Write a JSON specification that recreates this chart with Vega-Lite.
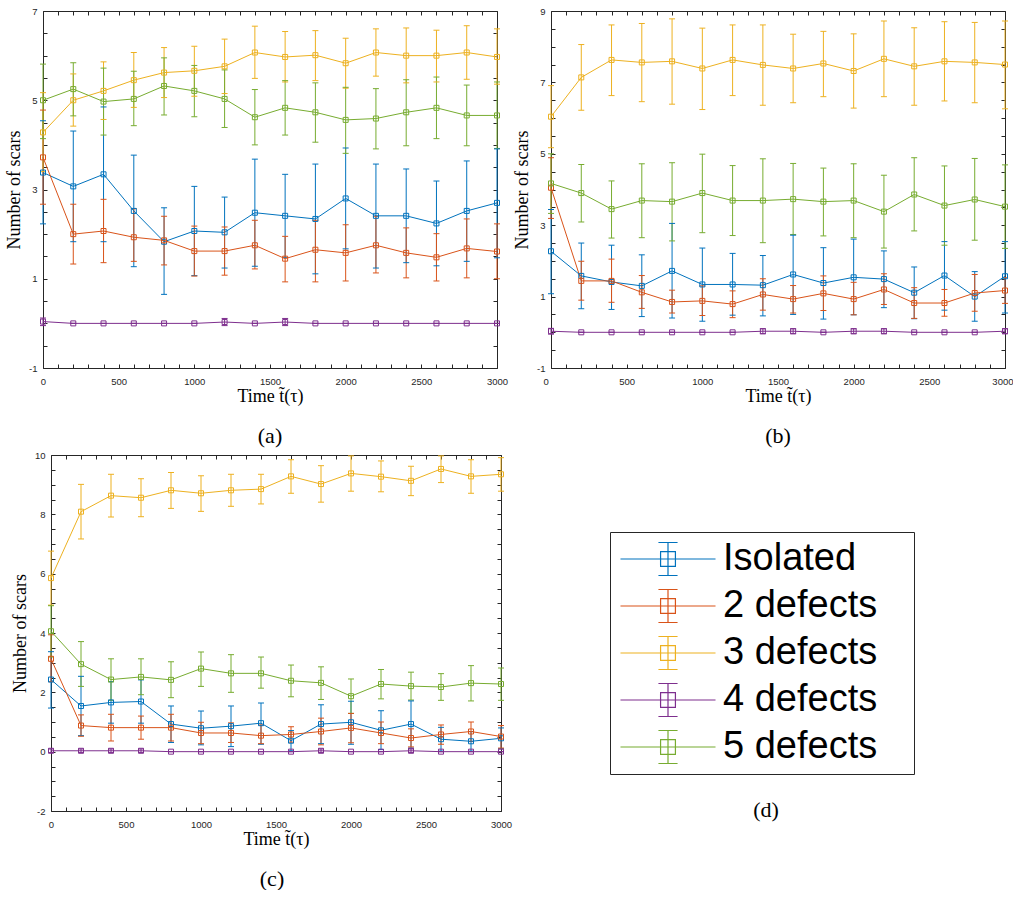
{
"$schema": "https://vega.github.io/schema/vega-lite/v6.json",
"padding": {"left": 5, "top": 6, "right": 0, "bottom": 0},
"background": "white",
"spacing": 3,
"datasets": {
"a": [
{"t":0,"s":"Isolated","m":3.38,"lo":2.23,"hi":4.54},{"t":200,"s":"Isolated","m":3.07,"lo":1.83,"hi":4.31},{"t":400,"s":"Isolated","m":3.34,"lo":1.83,"hi":4.85},{"t":600,"s":"Isolated","m":2.52,"lo":1.27,"hi":3.77},{"t":800,"s":"Isolated","m":1.83,"lo":0.65,"hi":2.59},{"t":1000,"s":"Isolated","m":2.07,"lo":1.07,"hi":3.07},{"t":1200,"s":"Isolated","m":2.04,"lo":1.24,"hi":2.83},{"t":1400,"s":"Isolated","m":2.48,"lo":1.28,"hi":3.68},{"t":1600,"s":"Isolated","m":2.41,"lo":1.48,"hi":3.34},{"t":1800,"s":"Isolated","m":2.34,"lo":1.11,"hi":3.57},{"t":2000,"s":"Isolated","m":2.80,"lo":1.67,"hi":3.93},{"t":2200,"s":"Isolated","m":2.41,"lo":1.24,"hi":3.57},{"t":2400,"s":"Isolated","m":2.41,"lo":1.36,"hi":3.46},{"t":2600,"s":"Isolated","m":2.24,"lo":1.29,"hi":3.19},{"t":2800,"s":"Isolated","m":2.52,"lo":1.39,"hi":3.64},{"t":3000,"s":"Isolated","m":2.70,"lo":1.47,"hi":3.91},
{"t":0,"s":"2 defects","m":3.72,"lo":2.67,"hi":4.78},{"t":200,"s":"2 defects","m":2.00,"lo":1.33,"hi":2.67},{"t":400,"s":"2 defects","m":2.07,"lo":1.36,"hi":2.78},{"t":600,"s":"2 defects","m":1.93,"lo":1.39,"hi":2.57},{"t":800,"s":"2 defects","m":1.86,"lo":1.31,"hi":2.40},{"t":1000,"s":"2 defects","m":1.62,"lo":1.06,"hi":2.18},{"t":1200,"s":"2 defects","m":1.62,"lo":1.08,"hi":2.16},{"t":1400,"s":"2 defects","m":1.75,"lo":1.22,"hi":2.31},{"t":1600,"s":"2 defects","m":1.45,"lo":0.93,"hi":1.95},{"t":1800,"s":"2 defects","m":1.65,"lo":0.93,"hi":2.31},{"t":2000,"s":"2 defects","m":1.58,"lo":0.95,"hi":2.21},{"t":2200,"s":"2 defects","m":1.75,"lo":1.13,"hi":2.40},{"t":2400,"s":"2 defects","m":1.58,"lo":1.02,"hi":2.14},{"t":2600,"s":"2 defects","m":1.48,"lo":0.95,"hi":2.01},{"t":2800,"s":"2 defects","m":1.68,"lo":1.02,"hi":2.34},{"t":3000,"s":"2 defects","m":1.61,"lo":1.00,"hi":2.23},
{"t":0,"s":"3 defects","m":4.28,"lo":3.40,"hi":5.17},{"t":200,"s":"3 defects","m":5.00,"lo":4.42,"hi":5.59},{"t":400,"s":"3 defects","m":5.21,"lo":4.57,"hi":5.86},{"t":600,"s":"3 defects","m":5.45,"lo":4.84,"hi":6.07},{"t":800,"s":"3 defects","m":5.62,"lo":5.06,"hi":6.18},{"t":1000,"s":"3 defects","m":5.66,"lo":5.09,"hi":6.21},{"t":1200,"s":"3 defects","m":5.76,"lo":5.15,"hi":6.37},{"t":1400,"s":"3 defects","m":6.07,"lo":5.49,"hi":6.66},{"t":1600,"s":"3 defects","m":5.97,"lo":5.41,"hi":6.54},{"t":1800,"s":"3 defects","m":6.01,"lo":5.44,"hi":6.56},{"t":2000,"s":"3 defects","m":5.83,"lo":5.27,"hi":6.39},{"t":2200,"s":"3 defects","m":6.07,"lo":5.54,"hi":6.60},{"t":2400,"s":"3 defects","m":6.00,"lo":5.39,"hi":6.62},{"t":2600,"s":"3 defects","m":6.00,"lo":5.41,"hi":6.57},{"t":2800,"s":"3 defects","m":6.07,"lo":5.47,"hi":6.67},{"t":3000,"s":"3 defects","m":5.97,"lo":5.36,"hi":6.60},
{"t":0,"s":"4 defects","m":0.04,"lo":-0.05,"hi":0.12},{"t":200,"s":"4 defects","m":0,"lo":0,"hi":0},{"t":400,"s":"4 defects","m":0,"lo":0,"hi":0},{"t":600,"s":"4 defects","m":0,"lo":0,"hi":0},{"t":800,"s":"4 defects","m":0,"lo":0,"hi":0},{"t":1000,"s":"4 defects","m":0,"lo":0,"hi":0},{"t":1200,"s":"4 defects","m":0.03,"lo":-0.05,"hi":0.11},{"t":1400,"s":"4 defects","m":0,"lo":0,"hi":0},{"t":1600,"s":"4 defects","m":0.03,"lo":-0.05,"hi":0.11},{"t":1800,"s":"4 defects","m":0,"lo":0,"hi":0},{"t":2000,"s":"4 defects","m":0,"lo":0,"hi":0},{"t":2200,"s":"4 defects","m":0,"lo":0,"hi":0},{"t":2400,"s":"4 defects","m":0,"lo":0,"hi":0},{"t":2600,"s":"4 defects","m":0,"lo":0,"hi":0},{"t":2800,"s":"4 defects","m":0,"lo":0,"hi":0},{"t":3000,"s":"4 defects","m":0,"lo":0,"hi":0},
{"t":0,"s":"5 defects","m":5.00,"lo":4.14,"hi":5.81},{"t":200,"s":"5 defects","m":5.25,"lo":4.65,"hi":5.84},{"t":400,"s":"5 defects","m":4.97,"lo":4.22,"hi":5.72},{"t":600,"s":"5 defects","m":5.03,"lo":4.43,"hi":5.65},{"t":800,"s":"5 defects","m":5.32,"lo":4.67,"hi":5.95},{"t":1000,"s":"5 defects","m":5.21,"lo":4.63,"hi":5.78},{"t":1200,"s":"5 defects","m":5.03,"lo":4.39,"hi":5.68},{"t":1400,"s":"5 defects","m":4.62,"lo":4.00,"hi":5.24},{"t":1600,"s":"5 defects","m":4.83,"lo":4.22,"hi":5.44},{"t":1800,"s":"5 defects","m":4.73,"lo":4.06,"hi":5.39},{"t":2000,"s":"5 defects","m":4.56,"lo":3.81,"hi":5.29},{"t":2200,"s":"5 defects","m":4.59,"lo":3.91,"hi":5.26},{"t":2400,"s":"5 defects","m":4.73,"lo":3.98,"hi":5.46},{"t":2600,"s":"5 defects","m":4.83,"lo":4.14,"hi":5.52},{"t":2800,"s":"5 defects","m":4.66,"lo":3.98,"hi":5.34},{"t":3000,"s":"5 defects","m":4.66,"lo":3.92,"hi":5.41}
],
"b": [
{"t":0,"s":"Isolated","m":2.27,"lo":1.08,"hi":3.44},{"t":200,"s":"Isolated","m":1.58,"lo":0.66,"hi":2.50},{"t":400,"s":"Isolated","m":1.41,"lo":0.64,"hi":2.44},{"t":600,"s":"Isolated","m":1.30,"lo":0.44,"hi":2.17},{"t":800,"s":"Isolated","m":1.72,"lo":0.40,"hi":3.05},{"t":1000,"s":"Isolated","m":1.34,"lo":0.31,"hi":2.36},{"t":1200,"s":"Isolated","m":1.34,"lo":0.48,"hi":2.21},{"t":1400,"s":"Isolated","m":1.32,"lo":0.46,"hi":2.15},{"t":1600,"s":"Isolated","m":1.62,"lo":0.50,"hi":2.72},{"t":1800,"s":"Isolated","m":1.38,"lo":0.37,"hi":2.37},{"t":2000,"s":"Isolated","m":1.54,"lo":0.49,"hi":2.61},{"t":2200,"s":"Isolated","m":1.49,"lo":0.69,"hi":2.28},{"t":2400,"s":"Isolated","m":1.11,"lo":0.38,"hi":1.83},{"t":2600,"s":"Isolated","m":1.59,"lo":0.62,"hi":2.54},{"t":2800,"s":"Isolated","m":1.00,"lo":0.31,"hi":1.70},{"t":3000,"s":"Isolated","m":1.57,"lo":0.54,"hi":2.54},
{"t":0,"s":"2 defects","m":4.05,"lo":3.19,"hi":4.89},{"t":200,"s":"2 defects","m":1.44,"lo":0.90,"hi":1.99},{"t":400,"s":"2 defects","m":1.44,"lo":0.84,"hi":2.05},{"t":600,"s":"2 defects","m":1.12,"lo":0.67,"hi":1.59},{"t":800,"s":"2 defects","m":0.85,"lo":0.54,"hi":1.18},{"t":1000,"s":"2 defects","m":0.88,"lo":0.47,"hi":1.30},{"t":1200,"s":"2 defects","m":0.79,"lo":0.41,"hi":1.16},{"t":1400,"s":"2 defects","m":1.06,"lo":0.62,"hi":1.50},{"t":1600,"s":"2 defects","m":0.93,"lo":0.54,"hi":1.31},{"t":1800,"s":"2 defects","m":1.09,"lo":0.61,"hi":1.58},{"t":2000,"s":"2 defects","m":0.93,"lo":0.49,"hi":1.40},{"t":2200,"s":"2 defects","m":1.20,"lo":0.78,"hi":1.64},{"t":2400,"s":"2 defects","m":0.82,"lo":0.39,"hi":1.25},{"t":2600,"s":"2 defects","m":0.82,"lo":0.45,"hi":1.20},{"t":2800,"s":"2 defects","m":1.10,"lo":0.59,"hi":1.62},{"t":3000,"s":"2 defects","m":1.17,"lo":0.81,"hi":1.53},
{"t":0,"s":"3 defects","m":6.04,"lo":5.17,"hi":6.91},{"t":200,"s":"3 defects","m":7.14,"lo":6.22,"hi":8.06},{"t":400,"s":"3 defects","m":7.63,"lo":6.63,"hi":8.61},{"t":600,"s":"3 defects","m":7.56,"lo":6.46,"hi":8.65},{"t":800,"s":"3 defects","m":7.59,"lo":6.39,"hi":8.78},{"t":1000,"s":"3 defects","m":7.39,"lo":6.24,"hi":8.52},{"t":1200,"s":"3 defects","m":7.63,"lo":6.63,"hi":8.61},{"t":1400,"s":"3 defects","m":7.49,"lo":6.36,"hi":8.61},{"t":1600,"s":"3 defects","m":7.39,"lo":6.43,"hi":8.35},{"t":1800,"s":"3 defects","m":7.53,"lo":6.60,"hi":8.43},{"t":2000,"s":"3 defects","m":7.32,"lo":6.28,"hi":8.36},{"t":2200,"s":"3 defects","m":7.66,"lo":6.60,"hi":8.72},{"t":2400,"s":"3 defects","m":7.45,"lo":6.36,"hi":8.53},{"t":2600,"s":"3 defects","m":7.59,"lo":6.48,"hi":8.70},{"t":2800,"s":"3 defects","m":7.56,"lo":6.43,"hi":8.68},{"t":3000,"s":"3 defects","m":7.50,"lo":6.26,"hi":8.72},
{"t":0,"s":"4 defects","m":0.03,"lo":-0.05,"hi":0.11},{"t":200,"s":"4 defects","m":0,"lo":0,"hi":0},{"t":400,"s":"4 defects","m":0,"lo":0,"hi":0},{"t":600,"s":"4 defects","m":0,"lo":0,"hi":0},{"t":800,"s":"4 defects","m":0,"lo":0,"hi":0},{"t":1000,"s":"4 defects","m":0,"lo":0,"hi":0},{"t":1200,"s":"4 defects","m":0,"lo":0,"hi":0},{"t":1400,"s":"4 defects","m":0.03,"lo":-0.04,"hi":0.10},{"t":1600,"s":"4 defects","m":0.03,"lo":-0.04,"hi":0.10},{"t":1800,"s":"4 defects","m":0,"lo":0,"hi":0},{"t":2000,"s":"4 defects","m":0.03,"lo":-0.04,"hi":0.10},{"t":2200,"s":"4 defects","m":0.03,"lo":-0.04,"hi":0.10},{"t":2400,"s":"4 defects","m":0,"lo":0,"hi":0},{"t":2600,"s":"4 defects","m":0,"lo":0,"hi":0},{"t":2800,"s":"4 defects","m":0,"lo":0,"hi":0},{"t":3000,"s":"4 defects","m":0.03,"lo":-0.04,"hi":0.10},
{"t":0,"s":"5 defects","m":4.17,"lo":3.33,"hi":5.00},{"t":200,"s":"5 defects","m":3.90,"lo":3.09,"hi":4.70},{"t":400,"s":"5 defects","m":3.45,"lo":2.64,"hi":4.24},{"t":600,"s":"5 defects","m":3.69,"lo":2.65,"hi":4.72},{"t":800,"s":"5 defects","m":3.66,"lo":2.56,"hi":4.75},{"t":1000,"s":"5 defects","m":3.90,"lo":2.79,"hi":4.99},{"t":1200,"s":"5 defects","m":3.69,"lo":2.71,"hi":4.67},{"t":1400,"s":"5 defects","m":3.69,"lo":2.51,"hi":4.86},{"t":1600,"s":"5 defects","m":3.73,"lo":2.74,"hi":4.73},{"t":1800,"s":"5 defects","m":3.66,"lo":2.70,"hi":4.60},{"t":2000,"s":"5 defects","m":3.69,"lo":2.65,"hi":4.72},{"t":2200,"s":"5 defects","m":3.38,"lo":2.36,"hi":4.40},{"t":2400,"s":"5 defects","m":3.86,"lo":2.84,"hi":4.89},{"t":2600,"s":"5 defects","m":3.55,"lo":2.44,"hi":4.66},{"t":2800,"s":"5 defects","m":3.72,"lo":2.58,"hi":4.87},{"t":3000,"s":"5 defects","m":3.52,"lo":2.35,"hi":4.69}
],
"c": [
{"t":0,"s":"Isolated","m":2.43,"lo":1.47,"hi":3.37},{"t":200,"s":"Isolated","m":1.54,"lo":0.54,"hi":2.54},{"t":400,"s":"Isolated","m":1.66,"lo":0.96,"hi":2.36},{"t":600,"s":"Isolated","m":1.69,"lo":0.96,"hi":2.42},{"t":800,"s":"Isolated","m":0.93,"lo":0.31,"hi":1.54},{"t":1000,"s":"Isolated","m":0.79,"lo":0.23,"hi":1.37},{"t":1200,"s":"Isolated","m":0.86,"lo":0.17,"hi":1.54},{"t":1400,"s":"Isolated","m":0.96,"lo":0.25,"hi":1.64},{"t":1600,"s":"Isolated","m":0.37,"lo":0.03,"hi":0.71},{"t":1800,"s":"Isolated","m":0.93,"lo":0.27,"hi":1.58},{"t":2000,"s":"Isolated","m":0.99,"lo":0.25,"hi":1.70},{"t":2200,"s":"Isolated","m":0.72,"lo":0.07,"hi":1.38},{"t":2400,"s":"Isolated","m":0.93,"lo":0.12,"hi":1.71},{"t":2600,"s":"Isolated","m":0.42,"lo":0.02,"hi":0.82},{"t":2800,"s":"Isolated","m":0.35,"lo":0.02,"hi":0.68},{"t":3000,"s":"Isolated","m":0.45,"lo":0.10,"hi":0.80},
{"t":0,"s":"2 defects","m":3.13,"lo":2.36,"hi":3.94},{"t":200,"s":"2 defects","m":0.88,"lo":0.52,"hi":1.24},{"t":400,"s":"2 defects","m":0.81,"lo":0.36,"hi":1.26},{"t":600,"s":"2 defects","m":0.81,"lo":0.42,"hi":1.20},{"t":800,"s":"2 defects","m":0.81,"lo":0.36,"hi":1.26},{"t":1000,"s":"2 defects","m":0.63,"lo":0.27,"hi":0.99},{"t":1200,"s":"2 defects","m":0.63,"lo":0.31,"hi":0.97},{"t":1400,"s":"2 defects","m":0.54,"lo":0.27,"hi":0.90},{"t":1600,"s":"2 defects","m":0.58,"lo":0.32,"hi":0.84},{"t":1800,"s":"2 defects","m":0.68,"lo":0.23,"hi":1.13},{"t":2000,"s":"2 defects","m":0.80,"lo":0.30,"hi":1.29},{"t":2200,"s":"2 defects","m":0.63,"lo":0.27,"hi":1.00},{"t":2400,"s":"2 defects","m":0.46,"lo":0.16,"hi":0.77},{"t":2600,"s":"2 defects","m":0.58,"lo":0.25,"hi":0.90},{"t":2800,"s":"2 defects","m":0.68,"lo":0.34,"hi":1.00},{"t":3000,"s":"2 defects","m":0.51,"lo":0.12,"hi":0.88},
{"t":0,"s":"3 defects","m":5.85,"lo":4.94,"hi":6.76},{"t":200,"s":"3 defects","m":8.09,"lo":7.17,"hi":9.01},{"t":400,"s":"3 defects","m":8.63,"lo":7.91,"hi":9.35},{"t":600,"s":"3 defects","m":8.56,"lo":7.92,"hi":9.20},{"t":800,"s":"3 defects","m":8.81,"lo":8.20,"hi":9.41},{"t":1000,"s":"3 defects","m":8.71,"lo":8.10,"hi":9.30},{"t":1200,"s":"3 defects","m":8.81,"lo":8.27,"hi":9.35},{"t":1400,"s":"3 defects","m":8.85,"lo":8.35,"hi":9.35},{"t":1600,"s":"3 defects","m":9.28,"lo":8.71,"hi":9.84},{"t":1800,"s":"3 defects","m":9.02,"lo":8.41,"hi":9.64},{"t":2000,"s":"3 defects","m":9.38,"lo":8.78,"hi":9.97},{"t":2200,"s":"3 defects","m":9.27,"lo":8.76,"hi":9.80},{"t":2400,"s":"3 defects","m":9.13,"lo":8.63,"hi":9.62},{"t":2600,"s":"3 defects","m":9.53,"lo":9.07,"hi":9.97},{"t":2800,"s":"3 defects","m":9.28,"lo":8.71,"hi":9.84},{"t":3000,"s":"3 defects","m":9.35,"lo":8.78,"hi":9.91},
{"t":0,"s":"4 defects","m":0.03,"lo":-0.03,"hi":0.09},{"t":200,"s":"4 defects","m":0.03,"lo":-0.03,"hi":0.09},{"t":400,"s":"4 defects","m":0.03,"lo":-0.03,"hi":0.09},{"t":600,"s":"4 defects","m":0.03,"lo":-0.03,"hi":0.09},{"t":800,"s":"4 defects","m":0,"lo":0,"hi":0},{"t":1000,"s":"4 defects","m":0,"lo":0,"hi":0},{"t":1200,"s":"4 defects","m":0,"lo":0,"hi":0},{"t":1400,"s":"4 defects","m":0,"lo":0,"hi":0},{"t":1600,"s":"4 defects","m":0,"lo":0,"hi":0},{"t":1800,"s":"4 defects","m":0.03,"lo":-0.03,"hi":0.09},{"t":2000,"s":"4 defects","m":0,"lo":0,"hi":0},{"t":2200,"s":"4 defects","m":0,"lo":0,"hi":0},{"t":2400,"s":"4 defects","m":0.03,"lo":-0.03,"hi":0.09},{"t":2600,"s":"4 defects","m":0,"lo":0,"hi":0},{"t":2800,"s":"4 defects","m":0,"lo":0,"hi":0},{"t":3000,"s":"4 defects","m":0,"lo":0,"hi":0},
{"t":0,"s":"5 defects","m":4.06,"lo":3.19,"hi":4.92},{"t":200,"s":"5 defects","m":2.95,"lo":2.20,"hi":3.71},{"t":400,"s":"5 defects","m":2.43,"lo":1.73,"hi":3.13},{"t":600,"s":"5 defects","m":2.52,"lo":1.92,"hi":3.13},{"t":800,"s":"5 defects","m":2.42,"lo":1.82,"hi":3.03},{"t":1000,"s":"5 defects","m":2.80,"lo":2.20,"hi":3.36},{"t":1200,"s":"5 defects","m":2.64,"lo":2.00,"hi":3.27},{"t":1400,"s":"5 defects","m":2.64,"lo":2.14,"hi":3.19},{"t":1600,"s":"5 defects","m":2.39,"lo":1.85,"hi":2.92},{"t":1800,"s":"5 defects","m":2.32,"lo":1.76,"hi":2.86},{"t":2000,"s":"5 defects","m":1.87,"lo":1.29,"hi":2.45},{"t":2200,"s":"5 defects","m":2.28,"lo":1.78,"hi":2.77},{"t":2400,"s":"5 defects","m":2.21,"lo":1.74,"hi":2.68},{"t":2600,"s":"5 defects","m":2.18,"lo":1.73,"hi":2.63},{"t":2800,"s":"5 defects","m":2.31,"lo":1.71,"hi":2.90},{"t":3000,"s":"5 defects","m":2.28,"lo":1.73,"hi":2.82}
]
},
"vconcat": [
{"spacing": 5, "hconcat": [
{
"data": {"name": "a"},
"width": 454, "height": 357,
"title": {"text": "(a)"},
"encoding": {
 "x": {"field": "t", "type": "quantitative", "scale": {"domain": [0, 3000], "nice": false, "zero": false}, "axis": null},
 "color": {"field": "s", "type": "nominal", "scale": {"domain": ["Isolated", "2 defects", "3 defects", "4 defects", "5 defects"], "range": ["#0072BD", "#D95319", "#EDB120", "#7E2F8E", "#77AC30"]},
  "legend": {"title": ".", "titleOrient": "right", "titleColor": "white", "titleFontSize": 2, "titlePadding": 28, "orient": "none", "legendX": 567, "legendY": 521, "symbolType": "M-2.88,0H2.88M0,-1V1M-0.58,-1H0.58M-0.58,1H0.58M-0.45,-0.45H0.45V0.45H-0.45Z", "symbolSize": 1089, "symbolStrokeWidth": 1.2, "labelFont": "Liberation Sans", "labelFontSize": 38, "labelColor": "black", "labelOffset": 36, "symbolOffset": 31, "rowPadding": 9, "padding": 8, "strokeColor": "#262626", "fillColor": "white", "labelLimit": 0,
   "encode": {"symbols": {"update": {"fill": {"value": "transparent"}, "opacity": {"value": 1}, "strokeOpacity": {"value": 1}}}}}}
},
"layer": [
 {"mark": {"type": "rule", "strokeWidth": 1},
  "encoding": {
   "x": {"field": "t", "type": "quantitative", "scale": {"domain": [0, 3000], "nice": false, "zero": false},
    "axis": {"orient": "bottom", "values": [0,100,200,300,400,500,600,700,800,900,1000,1100,1200,1300,1400,1500,1600,1700,1800,1900,2000,2100,2200,2300,2400,2500,2600,2700,2800,2900,3000], "labelExpr": "datum.value % 500 == 0 ? datum.value + '' : ''", "title": "Time t̃(τ)", "titlePadding": 2}},
   "y": {"field": "lo", "type": "quantitative", "scale": {"domain": [-1, 7], "nice": false, "zero": false},
    "axis": {"orient": "left", "values": [-1,-0.5,0,0.5,1,1.5,2,2.5,3,3.5,4,4.5,5,5.5,6,6.5,7], "labelExpr": "(datum.value + 1) % 2 == 0 ? datum.value + '' : ''", "title": "Number of scars", "titlePadding": 5}},
   "y2": {"field": "hi"}}},
 {"mark": {"type": "rule", "strokeWidth": 1, "xOffset": -3, "x2Offset": 3},
  "encoding": {"x2": {"field": "t"}, "y": {"field": "lo", "type": "quantitative", "scale": {"domain": [-1, 7], "nice": false, "zero": false}, "axis": null}}},
 {"mark": {"type": "rule", "strokeWidth": 1, "xOffset": -3, "x2Offset": 3},
  "encoding": {"x2": {"field": "t"}, "y": {"field": "hi", "type": "quantitative", "scale": {"domain": [-1, 7], "nice": false, "zero": false}, "axis": null}}},
 {"mark": {"type": "line", "strokeWidth": 1},
  "encoding": {
   "x": {"field": "t", "type": "quantitative", "scale": {"domain": [0, 3000], "nice": false, "zero": false},
    "axis": {"orient": "top", "values": [0,100,200,300,400,500,600,700,800,900,1000,1100,1200,1300,1400,1500,1600,1700,1800,1900,2000,2100,2200,2300,2400,2500,2600,2700,2800,2900,3000], "labels": false, "title": null}},
   "y": {"field": "m", "type": "quantitative", "scale": {"domain": [-1, 7], "nice": false, "zero": false},
    "axis": {"orient": "right", "values": [-1,-0.5,0,0.5,1,1.5,2,2.5,3,3.5,4,4.5,5,5.5,6,6.5,7], "labels": false, "title": null}}}},
 {"mark": {"type": "point", "shape": "square", "filled": false, "size": 25, "strokeWidth": 1, "opacity": 1},
  "encoding": {"y": {"field": "m", "type": "quantitative", "scale": {"domain": [-1, 7], "nice": false, "zero": false}, "axis": null}}}
],
"resolve": {"axis": {"x": "independent", "y": "independent"}}
},
{
"data": {"name": "b"},
"width": 454, "height": 357,
"title": {"text": "(b)"},
"encoding": {
 "x": {"field": "t", "type": "quantitative", "scale": {"domain": [0, 3000], "nice": false, "zero": false}, "axis": null},
 "color": {"field": "s", "type": "nominal", "scale": {"domain": ["Isolated", "2 defects", "3 defects", "4 defects", "5 defects"], "range": ["#0072BD", "#D95319", "#EDB120", "#7E2F8E", "#77AC30"]},
  "legend": {"title": ".", "titleOrient": "right", "titleColor": "white", "titleFontSize": 2, "titlePadding": 28, "orient": "none", "legendX": 567, "legendY": 521, "symbolType": "M-2.88,0H2.88M0,-1V1M-0.58,-1H0.58M-0.58,1H0.58M-0.45,-0.45H0.45V0.45H-0.45Z", "symbolSize": 1089, "symbolStrokeWidth": 1.2, "labelFont": "Liberation Sans", "labelFontSize": 38, "labelColor": "black", "labelOffset": 36, "symbolOffset": 31, "rowPadding": 9, "padding": 8, "strokeColor": "#262626", "fillColor": "white", "labelLimit": 0,
   "encode": {"symbols": {"update": {"fill": {"value": "transparent"}, "opacity": {"value": 1}, "strokeOpacity": {"value": 1}}}}}}
},
"layer": [
 {"mark": {"type": "rule", "strokeWidth": 1},
  "encoding": {
   "x": {"field": "t", "type": "quantitative", "scale": {"domain": [0, 3000], "nice": false, "zero": false},
    "axis": {"orient": "bottom", "values": [0,100,200,300,400,500,600,700,800,900,1000,1100,1200,1300,1400,1500,1600,1700,1800,1900,2000,2100,2200,2300,2400,2500,2600,2700,2800,2900,3000], "labelExpr": "datum.value % 500 == 0 ? datum.value + '' : ''", "labelFlush": true, "labelFlushOffset": 8, "title": "Time t̃(τ)", "titlePadding": 2}},
   "y": {"field": "lo", "type": "quantitative", "scale": {"domain": [-1, 9], "nice": false, "zero": false},
    "axis": {"orient": "left", "values": [-1,-0.5,0,0.5,1,1.5,2,2.5,3,3.5,4,4.5,5,5.5,6,6.5,7,7.5,8,8.5,9], "labelExpr": "(datum.value + 1) % 2 == 0 ? datum.value + '' : ''", "title": "Number of scars", "titlePadding": 5}},
   "y2": {"field": "hi"}}},
 {"mark": {"type": "rule", "strokeWidth": 1, "xOffset": -3, "x2Offset": 3},
  "encoding": {"x2": {"field": "t"}, "y": {"field": "lo", "type": "quantitative", "scale": {"domain": [-1, 9], "nice": false, "zero": false}, "axis": null}}},
 {"mark": {"type": "rule", "strokeWidth": 1, "xOffset": -3, "x2Offset": 3},
  "encoding": {"x2": {"field": "t"}, "y": {"field": "hi", "type": "quantitative", "scale": {"domain": [-1, 9], "nice": false, "zero": false}, "axis": null}}},
 {"mark": {"type": "line", "strokeWidth": 1},
  "encoding": {
   "x": {"field": "t", "type": "quantitative", "scale": {"domain": [0, 3000], "nice": false, "zero": false},
    "axis": {"orient": "top", "values": [0,100,200,300,400,500,600,700,800,900,1000,1100,1200,1300,1400,1500,1600,1700,1800,1900,2000,2100,2200,2300,2400,2500,2600,2700,2800,2900,3000], "labels": false, "title": null}},
   "y": {"field": "m", "type": "quantitative", "scale": {"domain": [-1, 9], "nice": false, "zero": false},
    "axis": {"orient": "right", "values": [-1,-0.5,0,0.5,1,1.5,2,2.5,3,3.5,4,4.5,5,5.5,6,6.5,7,7.5,8,8.5,9], "labels": false, "title": null}}}},
 {"mark": {"type": "point", "shape": "square", "filled": false, "size": 25, "strokeWidth": 1, "opacity": 1},
  "encoding": {"y": {"field": "m", "type": "quantitative", "scale": {"domain": [-1, 9], "nice": false, "zero": false}, "axis": null}}}
],
"resolve": {"axis": {"x": "independent", "y": "independent"}}
}
]},
{"spacing": 10, "hconcat": [
{
"data": {"name": "c"},
"width": 458, "height": 356,
"title": {"text": "(c)"},
"encoding": {
 "x": {"field": "t", "type": "quantitative", "scale": {"domain": [0, 3000], "range": [8, 458], "nice": false, "zero": false}, "axis": null},
 "color": {"field": "s", "type": "nominal", "scale": {"domain": ["Isolated", "2 defects", "3 defects", "4 defects", "5 defects"], "range": ["#0072BD", "#D95319", "#EDB120", "#7E2F8E", "#77AC30"]},
  "legend": {"title": ".", "titleOrient": "right", "titleColor": "white", "titleFontSize": 2, "titlePadding": 28, "orient": "none", "legendX": 567, "legendY": 521, "symbolType": "M-2.88,0H2.88M0,-1V1M-0.58,-1H0.58M-0.58,1H0.58M-0.45,-0.45H0.45V0.45H-0.45Z", "symbolSize": 1089, "symbolStrokeWidth": 1.2, "labelFont": "Liberation Sans", "labelFontSize": 38, "labelColor": "black", "labelOffset": 36, "symbolOffset": 31, "rowPadding": 9, "padding": 8, "strokeColor": "#262626", "fillColor": "white", "labelLimit": 0,
   "encode": {"symbols": {"update": {"fill": {"value": "transparent"}, "opacity": {"value": 1}, "strokeOpacity": {"value": 1}}}}}}
},
"layer": [
 {"mark": {"type": "rule", "strokeWidth": 1},
  "encoding": {
   "x": {"field": "t", "type": "quantitative", "scale": {"domain": [0, 3000], "range": [8, 458], "nice": false, "zero": false},
    "axis": {"orient": "bottom", "values": [0,100,200,300,400,500,600,700,800,900,1000,1100,1200,1300,1400,1500,1600,1700,1800,1900,2000,2100,2200,2300,2400,2500,2600,2700,2800,2900,3000], "labelExpr": "datum.value % 500 == 0 ? datum.value + '' : ''", "title": "Time t̃(τ)", "titlePadding": 2}},
   "y": {"field": "lo", "type": "quantitative", "scale": {"domain": [-2, 10], "nice": false, "zero": false},
    "axis": {"orient": "left", "offset": -8, "values": [-2,-1.5,-1,-0.5,0,0.5,1,1.5,2,2.5,3,3.5,4,4.5,5,5.5,6,6.5,7,7.5,8,8.5,9,9.5,10], "labelExpr": "datum.value % 2 == 0 ? datum.value + '' : ''", "title": "Number of scars", "titlePadding": 5}},
   "y2": {"field": "hi"}}},
 {"mark": {"type": "rule", "strokeWidth": 1, "xOffset": -3, "x2Offset": 3},
  "encoding": {"x2": {"field": "t"}, "y": {"field": "lo", "type": "quantitative", "scale": {"domain": [-2, 10], "nice": false, "zero": false}, "axis": null}}},
 {"mark": {"type": "rule", "strokeWidth": 1, "xOffset": -3, "x2Offset": 3},
  "encoding": {"x2": {"field": "t"}, "y": {"field": "hi", "type": "quantitative", "scale": {"domain": [-2, 10], "nice": false, "zero": false}, "axis": null}}},
 {"mark": {"type": "line", "strokeWidth": 1},
  "encoding": {
   "x": {"field": "t", "type": "quantitative", "scale": {"domain": [0, 3000], "range": [8, 458], "nice": false, "zero": false},
    "axis": {"orient": "top", "values": [0,100,200,300,400,500,600,700,800,900,1000,1100,1200,1300,1400,1500,1600,1700,1800,1900,2000,2100,2200,2300,2400,2500,2600,2700,2800,2900,3000], "labels": false, "title": null}},
   "y": {"field": "m", "type": "quantitative", "scale": {"domain": [-2, 10], "nice": false, "zero": false},
    "axis": {"orient": "right", "values": [-2,-1.5,-1,-0.5,0,0.5,1,1.5,2,2.5,3,3.5,4,4.5,5,5.5,6,6.5,7,7.5,8,8.5,9,9.5,10], "labels": false, "title": null}}}},
 {"mark": {"type": "point", "shape": "square", "filled": false, "size": 25, "strokeWidth": 1, "opacity": 1},
  "encoding": {"y": {"field": "m", "type": "quantitative", "scale": {"domain": [-2, 10], "nice": false, "zero": false}, "axis": null}}}
],
"resolve": {"axis": {"x": "independent", "y": "independent"}}
},
{
"data": {"values": [{"d": ""}]},
"width": 488, "height": 335,
"title": {"text": "(d)", "offset": 10},
"mark": {"type": "text"},
"encoding": {"text": {"field": "d", "type": "nominal"}}
}
]}
],
"config": {
 "view": {"stroke": null},
 "font": "Liberation Sans",
 "title": {"orient": "bottom", "anchor": "middle", "font": "Liberation Serif", "fontSize": 22, "fontWeight": "normal", "color": "black", "offset": 20},
 "axis": {"grid": false, "domainColor": "#262626", "domainWidth": 1, "tickColor": "#262626", "tickWidth": 1, "tickSize": -4, "labelColor": "#262626", "labelFont": "Liberation Sans Narrow, Arial Narrow, Liberation Sans", "labelFontSize": 9.5, "labelPadding": 10, "labelOverlap": false, "labelFlush": false, "labelBound": false, "titleFont": "Liberation Serif", "titleFontSize": 18, "titleFontWeight": "normal", "titleColor": "black"},
 "axisX": {"labelPadding": 12}
}
}
